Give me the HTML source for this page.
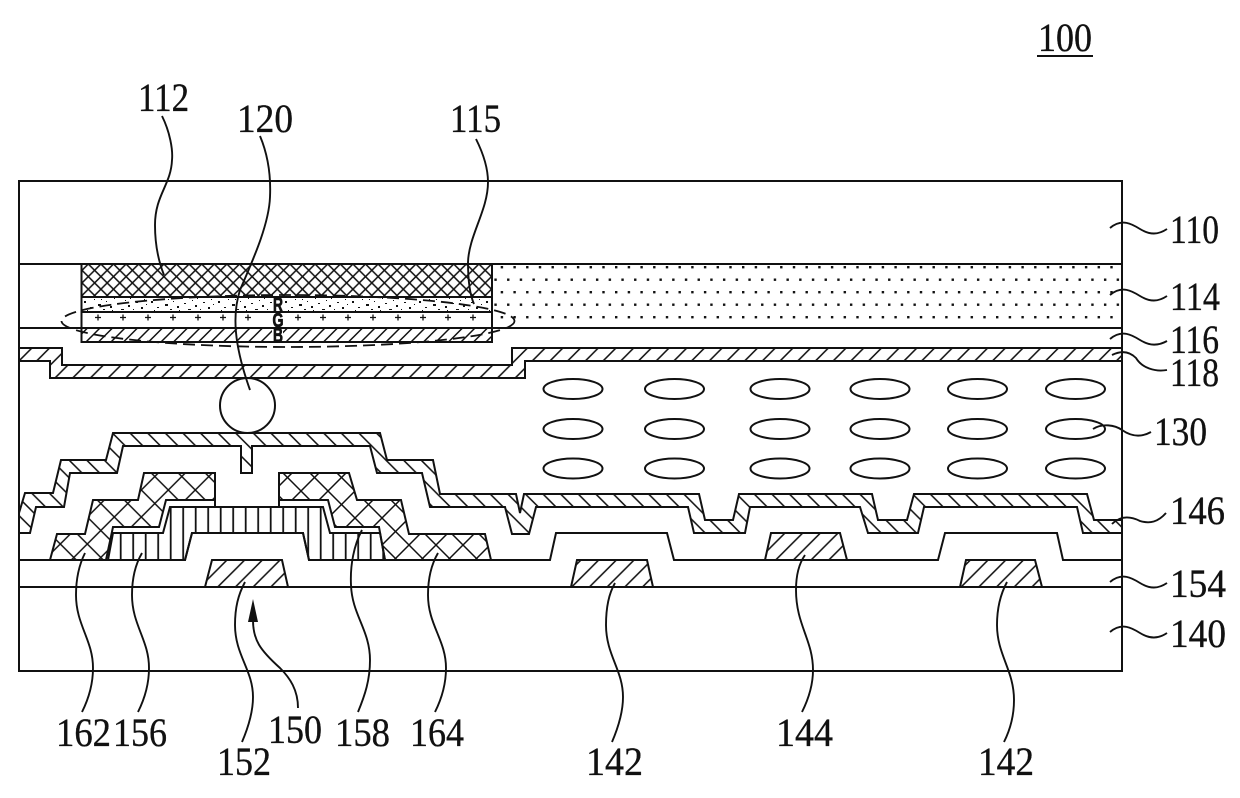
<!DOCTYPE html>
<html>
<head>
<meta charset="utf-8">
<style>
html,body{margin:0;padding:0;background:#fff;}
svg{display:block;}
text{font-family:"Liberation Serif",serif;font-size:40px;fill:#111;stroke:#111;stroke-width:0.35;}
.rgb{font-family:"Liberation Sans",sans-serif;font-weight:bold;font-size:20px;stroke-width:0.8;}
.leader{fill:none;stroke:#111;stroke-width:1.9;}
.o{stroke:#111;stroke-width:2;stroke-linejoin:miter;}
</style>
</head>
<body>
<svg width="1240" height="798" viewBox="0 0 1240 798" xmlns="http://www.w3.org/2000/svg">
<defs>
<pattern id="h118" width="17.7" height="17.7" patternUnits="userSpaceOnUse" patternTransform="translate(8.2,0)">
<path d="M-1 18.7L18.7 -1M-1 1L1 -1M16.7 18.7L18.7 16.7" stroke="#111" stroke-width="1.5"/>
</pattern>
<pattern id="h146" width="17.6" height="17.6" patternUnits="userSpaceOnUse" patternTransform="translate(13.8,0)">
<path d="M-1 -1L18.6 18.6M16.6 -1L18.6 1M-1 16.6L1 18.6" stroke="#111" stroke-width="1.5"/>
</pattern>
<pattern id="hB" width="12.5" height="12.5" patternUnits="userSpaceOnUse" patternTransform="translate(3,0)">
<path d="M-1 13.5L13.5 -1M-1 1L1 -1M11.5 13.5L13.5 11.5" stroke="#111" stroke-width="1.5"/>
</pattern>
<pattern id="x112" width="12.6" height="12.6" patternUnits="userSpaceOnUse" patternTransform="translate(88.3,264)">
<path d="M-1 -1L13.6 13.6M13.6 -1L-1 13.6M11.6 -1L13.6 1M-1 1L1 -1M-1 11.6L1 13.6M11.6 13.6L13.6 11.6" stroke="#111" stroke-width="1.5"/>
</pattern>
<pattern id="x162" width="27" height="27" patternUnits="userSpaceOnUse" patternTransform="translate(6.3,4)">
<path d="M-1 -1L28 28M28 -1L-1 28M26 -1L28 1M-1 1L1 -1M-1 26L1 28M26 28L28 26" stroke="#111" stroke-width="1.5"/>
</pattern>
<pattern id="x164" width="27" height="27" patternUnits="userSpaceOnUse" patternTransform="translate(17.5,-8.5)">
<path d="M-1 -1L28 28M28 -1L-1 28M26 -1L28 1M-1 1L1 -1M-1 26L1 28M26 28L28 26" stroke="#111" stroke-width="1.5"/>
</pattern>
<pattern id="v" width="12.5" height="40" patternUnits="userSpaceOnUse" patternTransform="translate(1.95,0)">
<path d="M6.25 0V40" stroke="#111" stroke-width="1.8"/>
</pattern>
<pattern id="dots" width="12.7" height="25" patternUnits="userSpaceOnUse" patternTransform="translate(500.7,266)">
<rect x="0" y="0" width="2.4" height="2.4" fill="#111"/>
<rect x="6.35" y="12.5" width="2.4" height="2.4" fill="#111"/>
</pattern>
<pattern id="speck" width="67" height="15" patternUnits="userSpaceOnUse" patternTransform="translate(81,297)">
<path fill="#111" d="M3 4h2v2h-2zM9 10h2v1h-2zM13 2h1v1h-1zM17 7h3v2h-3zM22 12h2v1h-2zM25 4h1v1h-1zM29 9h2v2h-2zM33 1h1v1h-1zM36 6h2v1h-2zM40 12h3v1h-3zM44 3h1v1h-1zM47 8h2v2h-2zM52 12h1v1h-1zM55 5h2v1h-2zM60 10h2v2h-2zM63 2h1v1h-1zM6 13h1v1h-1zM20 2h1v1h-1zM31 13h1v1h-1zM49 1h1v1h-1zM65 7h1v1h-1z"/>
</pattern>
</defs>

<rect width="1240" height="798" fill="#fff"/>

<!-- underline 100 -->
<text x="1038" y="51" textLength="54" lengthAdjust="spacingAndGlyphs">100</text>
<path d="M1037 56H1093" stroke="#111" stroke-width="2"/>

<!-- color filter stack -->
<rect x="81.5" y="264" width="410.5" height="33" fill="url(#x112)"/>
<rect x="81.5" y="297" width="410.5" height="15" fill="url(#speck)"/>
<rect x="81.5" y="328" width="410.5" height="14" fill="url(#hB)"/>
<rect x="272" y="297" width="11" height="45" fill="#fff"/>
<path class="o" fill="none" d="M81.5 264V342H492V264M81.5 297H492M81.5 312H492"/>
<path d="M19 328H492M492 328H1122" class="o"/>
<rect x="493" y="265" width="628" height="62" fill="url(#dots)"/>

<!-- plus marks -->
<path d="M95 317.5h6M98 314.5v6M120 317.5h6M123 314.5v6M145 317.5h6M148 314.5v6M170 317.5h6M173 314.5v6M195 317.5h6M198 314.5v6M220 317.5h6M223 314.5v6M245 317.5h6M248 314.5v6M295 317.5h6M298 314.5v6M320 317.5h6M323 314.5v6M345 317.5h6M348 314.5v6M370 317.5h6M373 314.5v6M395 317.5h6M398 314.5v6M420 317.5h6M423 314.5v6M445 317.5h6M448 314.5v6M470 317.5h6M473 314.5v6" stroke="#111" stroke-width="1.3"/>

<!-- R G B -->
<text class="rgb" x="273" y="311.5" textLength="10" lengthAdjust="spacingAndGlyphs">R</text>
<text class="rgb" x="272.5" y="327" textLength="11" lengthAdjust="spacingAndGlyphs">G</text>
<text class="rgb" x="273" y="342" textLength="10" lengthAdjust="spacingAndGlyphs">B</text>

<!-- dashed ellipse 115 -->
<ellipse cx="288" cy="321" rx="226.5" ry="26" fill="none" stroke="#111" stroke-width="1.8" stroke-dasharray="12 6"/>

<!-- conductive layer 118 -->
<path class="o" fill="url(#h118)" d="M19 348H62V365H512V348H1122V361H525V378H50V361H19Z"/>

<!-- spacer -->
<circle cx="247.5" cy="405.5" r="27.5" fill="#fff" class="o"/>

<!-- liquid crystal -->
<g fill="#fff" class="o">
<ellipse cx="573" cy="389" rx="29.5" ry="10"/><ellipse cx="674.5" cy="389" rx="29.5" ry="10"/><ellipse cx="780" cy="389" rx="29.5" ry="10"/><ellipse cx="880" cy="389" rx="29.5" ry="10"/><ellipse cx="977.5" cy="389" rx="29.5" ry="10"/><ellipse cx="1075.5" cy="389" rx="29.5" ry="10"/>
<ellipse cx="573" cy="429" rx="29.5" ry="10"/><ellipse cx="674.5" cy="429" rx="29.5" ry="10"/><ellipse cx="780" cy="429" rx="29.5" ry="10"/><ellipse cx="880" cy="429" rx="29.5" ry="10"/><ellipse cx="977.5" cy="429" rx="29.5" ry="10"/><ellipse cx="1075.5" cy="429" rx="29.5" ry="10"/>
<ellipse cx="573" cy="468.5" rx="29.5" ry="10"/><ellipse cx="674.5" cy="468.5" rx="29.5" ry="10"/><ellipse cx="780" cy="468.5" rx="29.5" ry="10"/><ellipse cx="880" cy="468.5" rx="29.5" ry="10"/><ellipse cx="977.5" cy="468.5" rx="29.5" ry="10"/><ellipse cx="1075.5" cy="468.5" rx="29.5" ry="10"/>
</g>

<!-- pixel electrode 146 -->
<path class="o" fill="url(#h146)" d="M19 533L30 533L36 507L64 507L70 473L117 473L123 446L241 446L241 473L252 473L252 446L370 446L377 473L422 473L430 507L505 507L512 534L529 534L536 507L688 507L694 533L745 533L750 507L860 507L868 533L918 533L924 507L1077 507L1083 533L1122 533L1122 520L1094 520L1087 494L914 494L907 520L878 520L872 494L739 494L733 520L705 520L699 494L524 494L520 513L516 494L440 494L433 460L387 460L380 433L113 433L106 460L61 460L53 493L25 493L19 513Z"/>

<!-- source / drain -->
<path class="o" fill="url(#x162)" d="M50 560L57 534L85 534L93 500L138 500L144 473L215 473L215 500L166 500L159 527L113 527L106 560Z"/>
<path class="o" fill="url(#x164)" d="M279 473L349 473L357 500L401 500L409 534L485 534L491 560L385 560L379 527L335 527L328 500L279 500Z"/>
<path class="o" fill="url(#v)" d="M108 560L113 533L163 533L170 507L323 507L330 533L380 533L385 560L309 560L303 533L192 533L185 560Z"/>
<path class="o" fill="none" d="M215 500V507M279 500V507"/>

<!-- gate insulator 154 -->
<path class="o" fill="none" d="M19 560H185L192 533H303L309 560H550L556 533H667L674 560H938L945 533H1057L1063 560H1122"/>
<path class="o" d="M19 587H1122"/>

<!-- gates -->
<path class="o" fill="url(#h118)" d="M205 587L212 560H282L288 587Z"/>
<path class="o" fill="url(#h118)" d="M571 587L577 560H647L653 587Z"/>
<path class="o" fill="url(#h118)" d="M765 560L771 533H840L847 560Z"/>
<path class="o" fill="url(#h118)" d="M960 587L966 560H1035L1042 587Z"/>

<!-- outer frame -->
<rect x="19" y="181" width="1103" height="490" fill="none" class="o"/>
<path class="o" d="M19 264H1122"/>

<!-- leaders -->
<path class="leader" d="M162 116C170 132 173 150 172 160C171 185 155 195 155 225C155 245 158 260 164 275"/>
<path class="leader" d="M260 136C268 155 271 175 270 197C269 225 252 262 240 290C232 315 234 345 250 390"/>
<path class="leader" d="M476 139C484 155 488 170 488 182C488 210 469 235 468 262C468 280 470 295 474 304"/>
<path class="leader" d="M85 553C79 565 76 578 76 595C76 625 93 640 93 668C93 685 88 700 82 712"/>
<path class="leader" d="M142 553C135 565 132 578 132 595C132 625 149 640 149 668C149 685 144 700 138 712"/>
<path class="leader" d="M245 582C238 595 235 608 235 625C235 655 253 670 253 697C253 712 248 728 242 742"/>
<path class="leader" d="M253 620C253 640 260 650 280 668C290 678 298 690 298 708"/>
<path d="M253 599L258 622H248Z" fill="#111"/>
<path class="leader" d="M362 530C354 545 350 565 351 585C352 615 370 630 370 660C370 680 365 695 358 712"/>
<path class="leader" d="M438 553C431 565 428 578 428 595C428 625 446 640 446 668C446 685 441 700 435 712"/>
<path class="leader" d="M615 583C608 595 606 610 606 625C606 655 623 670 623 697C623 712 618 728 612 742"/>
<path class="leader" d="M805 555C798 565 796 578 796 590C796 625 813 640 813 670C813 685 808 700 802 712"/>
<path class="leader" d="M1007 582C1000 595 997 610 997 625C997 655 1014 670 1014 700C1014 715 1010 730 1004 742"/>
<path class="leader" d="M1110 228C1122 218 1132 224 1140 229C1150 235 1158 235 1167 229"/>
<path class="leader" d="M1110 295C1122 285 1132 291 1140 296C1150 302 1158 302 1167 296"/>
<path class="leader" d="M1110 339C1122 329 1132 335 1140 340C1150 346 1158 346 1167 341"/>
<path class="leader" d="M1112 355C1122 350 1130 352 1136 358C1142 368 1155 372 1167 370"/>
<path class="leader" d="M1093 429C1102 423 1115 425 1122 430C1132 437 1142 437 1151 432"/>
<path class="leader" d="M1112 524C1120 516 1130 516 1140 521C1150 524 1158 522 1166 513"/>
<path class="leader" d="M1110 582C1122 572 1132 578 1140 583C1150 589 1158 589 1167 583"/>
<path class="leader" d="M1110 632C1122 622 1132 628 1140 633C1150 639 1158 639 1167 633"/>

<!-- labels -->
<text x="138" y="111" textLength="51" lengthAdjust="spacingAndGlyphs">112</text>
<text x="237" y="132" textLength="56" lengthAdjust="spacingAndGlyphs">120</text>
<text x="450" y="132" textLength="51" lengthAdjust="spacingAndGlyphs">115</text>
<text x="56" y="746" textLength="55" lengthAdjust="spacingAndGlyphs">162</text>
<text x="113" y="746" textLength="54" lengthAdjust="spacingAndGlyphs">156</text>
<text x="217" y="775" textLength="54" lengthAdjust="spacingAndGlyphs">152</text>
<text x="268" y="743" textLength="54" lengthAdjust="spacingAndGlyphs">150</text>
<text x="335" y="746" textLength="55" lengthAdjust="spacingAndGlyphs">158</text>
<text x="410" y="746" textLength="54" lengthAdjust="spacingAndGlyphs">164</text>
<text x="586" y="775" textLength="57" lengthAdjust="spacingAndGlyphs">142</text>
<text x="776" y="746" textLength="57" lengthAdjust="spacingAndGlyphs">144</text>
<text x="978" y="775" textLength="56" lengthAdjust="spacingAndGlyphs">142</text>
<text x="1170" y="243" textLength="49" lengthAdjust="spacingAndGlyphs">110</text>
<text x="1170" y="310" textLength="50" lengthAdjust="spacingAndGlyphs">114</text>
<text x="1170" y="353" textLength="49" lengthAdjust="spacingAndGlyphs">116</text>
<text x="1170" y="386" textLength="49" lengthAdjust="spacingAndGlyphs">118</text>
<text x="1154" y="445" textLength="53" lengthAdjust="spacingAndGlyphs">130</text>
<text x="1170" y="524" textLength="55" lengthAdjust="spacingAndGlyphs">146</text>
<text x="1170" y="597" textLength="56" lengthAdjust="spacingAndGlyphs">154</text>
<text x="1170" y="647" textLength="56" lengthAdjust="spacingAndGlyphs">140</text>
</svg>
</body>
</html>
